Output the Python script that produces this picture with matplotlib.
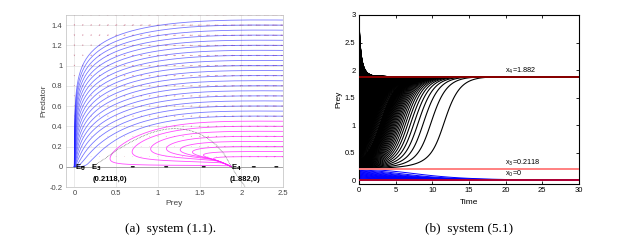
import numpy as np
import matplotlib
matplotlib.use("Agg")
import matplotlib.pyplot as plt
from matplotlib.collections import LineCollection

# ---------------- data ----------------
# equilibria printed on the chart
prey_E0 = 0.0
prey_E3 = 0.2118
prey_E4 = 1.882

# panel (a): starting states of the phase-plane orbits (prey, predator)
orbit_prey_start = 2.5
orbit_pred_start_blue = [0.50, 0.55, 0.60, 0.65, 0.70, 0.75, 0.80, 0.85, 0.90, 0.95,
                         1.00, 1.05, 1.10, 1.15, 1.20, 1.25, 1.30, 1.35, 1.40, 1.45]
orbit_pred_start_magenta = [0.10, 0.15, 0.20, 0.25, 0.30, 0.35, 0.40, 0.45]

# dotted curve through E3 and E4
dotted_prey = [0.2118, 0.30, 0.40, 0.50, 0.60, 0.70, 0.80, 0.90, 1.00, 1.10, 1.20,
               1.30, 1.40, 1.50, 1.60, 1.70, 1.80, 1.882, 1.95, 2.05]
dotted_pred = [0.0, 0.045, 0.10, 0.16, 0.21, 0.255, 0.295, 0.33, 0.355, 0.372, 0.378,
               0.372, 0.355, 0.325, 0.28, 0.215, 0.12, 0.0, -0.09, -0.20]

# flow arrows drawn on the prey axis
axis_arrow_prey = [0.10, 0.70, 1.10, 1.55, 2.15, 2.42]

# model constants of system (1.1)
a_r, a_pred, a_conv, a_death = 0.258, 1.0, 0.09, 0.20

# panel (b): starting prey values of the time series
b_start_below = prey_E3 - 0.01 * np.arange(1, 21)
b_start_near = prey_E3 + 0.0036 * np.arange(1, 41)
b_start_mid = np.arange(0.36, 1.875, 0.01)
b_start_above = np.arange(1.89, 3.001, 0.01)
b_growth = 0.45

a_xticks = [0, 0.5, 1, 1.5, 2, 2.5]
a_xticklabels = ["0", "0.5", "1", "1.5", "2", "2.5"]
a_yticks = [-0.2, 0, 0.2, 0.4, 0.6, 0.8, 1, 1.2, 1.4]
a_yticklabels = ["-0.2", "0", "0.2", "0.4", "0.6", "0.8", "1", "1.2", "1.4"]
b_xticks = [0, 5, 10, 15, 20, 25, 30]
b_yticks = [0, 0.5, 1, 1.5, 2, 2.5, 3]
b_yticklabels = ["0", "0.5", "1", "1.5", "2", "2.5", "3"]


# ---------------- models ----------------
def field_a(x, y):
    dx = x * (a_r * (x - prey_E3) * (prey_E4 - x) - a_pred * y)
    dy = y * (a_conv * x - a_death)
    return dx, dy


def rk4_2d(x, y, dt, n, keep):
    xs, ys = [x.copy()], [y.copy()]
    for i in range(n):
        k1 = field_a(x, y)
        k2 = field_a(x + 0.5 * dt * k1[0], y + 0.5 * dt * k1[1])
        k3 = field_a(x + 0.5 * dt * k2[0], y + 0.5 * dt * k2[1])
        k4 = field_a(x + dt * k3[0], y + dt * k3[1])
        x = x + dt / 6 * (k1[0] + 2 * k2[0] + 2 * k3[0] + k4[0])
        y = y + dt / 6 * (k1[1] + 2 * k2[1] + 2 * k3[1] + k4[1])
        if i % keep == 0:
            xs.append(x.copy()); ys.append(y.copy())
    return np.array(xs), np.array(ys)


def field_b(x):
    q = np.where(x < prey_E3, 0.38 + 0.62 * x / prey_E3,
                 np.where(x < prey_E4, 1.0 / (1.0 + x ** 2), 0.5))
    return b_growth * x * (x / prey_E3 - 1) * (1 - x / prey_E4) * q


def rk4_1d(x, dt, n):
    out = [x.copy()]
    for i in range(n):
        k1 = field_b(x)
        k2 = field_b(x + 0.5 * dt * k1)
        k3 = field_b(x + 0.5 * dt * k2)
        k4 = field_b(x + dt * k3)
        x = x + dt / 6 * (k1 + 2 * k2 + 2 * k3 + k4)
        out.append(x.copy())
    return np.array(out)


# ---------------- figure ----------------
plt.rcParams['font.family'] = ['Liberation Sans', 'DejaVu Sans']
fig = plt.figure(figsize=(6.33, 2.44), dpi=100)

# ---- panel (a)
ax = fig.add_axes([0.1043, 0.2336, 0.3428, 0.7049])
ax.set_xlim(-0.1, 2.5)
ax.set_ylim(-0.2, 1.5)
ax.grid(True, color='#e2e2e2', lw=0.5)
ax.set_axisbelow(True)
for s in ax.spines.values():
    s.set_color('#bdbdbd'); s.set_linewidth(0.5)
ax.tick_params(length=0, labelsize=5.5, colors='#444444', pad=2.5)
ax.set_xticks(a_xticks); ax.set_xticklabels(a_xticklabels)
ax.set_yticks(a_yticks); ax.set_yticklabels(a_yticklabels)
ax.set_xlabel("Prey", fontsize=6, color='#444444', labelpad=2)
ax.set_ylabel("Predator", fontsize=6, color='#444444', labelpad=1.5)

# direction field (arrow length grows with the square root of the speed)
gx, gy = np.meshgrid(np.arange(0, 2.51, 0.1), np.arange(0.1, 1.51, 0.1))
u, v = field_a(gx, gy)
sp = np.hypot(u, v)
ln = 0.07 * np.sqrt(sp / sp.max())
ax.quiver(gx, gy, u / sp * ln, v / sp * ln, angles='xy', scale_units='xy', scale=1,
          color='#c04a6a', alpha=0.7, width=0.0028, headwidth=2.5,
          headlength=2.5, headaxislength=2.2, pivot='middle', zorder=1)

# orbits
y0 = np.array(orbit_pred_start_blue + orbit_pred_start_magenta)
x0 = np.full_like(y0, orbit_prey_start)
X, Y = rk4_2d(x0, y0, 0.02, 20000, 4)
nb = len(orbit_pred_start_blue)
for i in range(len(y0)):
    if i < nb:
        ax.plot(X[:, i], Y[:, i], color='#2020ff', alpha=0.6, lw=0.6, zorder=2)
    else:
        ax.plot(X[:, i], Y[:, i], color='#ff20ff', alpha=0.8, lw=0.6, zorder=2)

ax.axhline(0, color='#8a8a8a', lw=0.5, zorder=2)
ax.plot(dotted_prey, dotted_pred, ls=(0, (1, 1.2)), color='#555555', lw=0.5, zorder=3)
for xp in axis_arrow_prey:
    dirn = np.sign(xp * (xp - prey_E3) * (prey_E4 - xp))
    ax.annotate("", xy=(xp + 0.05 * dirn, 0), xytext=(xp - 0.05 * dirn, 0),
                arrowprops=dict(arrowstyle='-', color='black', lw=0.9), zorder=4)

lab = dict(fontsize=5.5, fontweight='bold', color='black', zorder=5)
ax.text(prey_E0 + 0.005, -0.005, r"E$_\mathbf{0}$", ha='left', va='center', **lab)
ax.text(prey_E3 - 0.01, -0.005, r"E$_\mathbf{3}$", ha='left', va='center', **lab)
ax.text(prey_E3 + 0.01, -0.13, "(0.2118,0)", ha='left', va='center', **lab)
ax.text(prey_E4 - 0.01, -0.005, r"E$_\mathbf{4}$", ha='left', va='center', **lab)
ax.text(prey_E4 - 0.02, -0.13, "(1.882,0)", ha='left', va='center', **lab)

# ---- panel (b)
bx = fig.add_axes([0.567, 0.246, 0.3476, 0.6926])
bx.set_xlim(0, 30)
bx.set_ylim(-0.067, 3)
for s in bx.spines.values():
    s.set_color('black'); s.set_linewidth(0.8)
bx.tick_params(direction='in', length=2.5, width=0.6, top=True, right=True,
               labelsize=5.5, pad=2.5)
bx.set_xticks(b_xticks)
bx.set_yticks(b_yticks); bx.set_yticklabels(b_yticklabels)
bx.set_xlabel("Time", fontsize=6, labelpad=3)
bx.set_ylabel("Prey", fontsize=6, labelpad=2)

dt = 0.005
nsteps = int(30 / dt)
tt = np.arange(nsteps + 1) * dt
starts_black = np.concatenate([b_start_near, b_start_mid, b_start_above])
PB = rk4_1d(starts_black, dt, nsteps)
PL = rk4_1d(np.asarray(b_start_below), dt, nsteps)
segs = [np.column_stack([tt, PB[:, i]]) for i in range(PB.shape[1])]
bx.add_collection(LineCollection(segs, colors='black', linewidths=0.8, zorder=2))
segs = [np.column_stack([tt, PL[:, i]]) for i in range(PL.shape[1])]
bx.add_collection(LineCollection(segs, colors='#0000ff', linewidths=0.7, zorder=2))

bx.axhline(prey_E4, color='#8b0000', lw=1.4, zorder=3)
bx.axhline(prey_E3, color='#ff8080', lw=1.4, zorder=3)
bx.axhline(prey_E0, color='#b00030', lw=1.4, zorder=3)
bx.text(19.9, 1.985, r"x$_4$=1.882", fontsize=5.2, va='center', ha='left')
bx.text(19.9, 0.32, r"x$_3$=0.2118", fontsize=5.2, va='center', ha='left')
bx.text(19.9, 0.11, r"x$_0$=0", fontsize=5.2, va='center', ha='left')

# captions
fig.text(0.269, 0.061, "(a)  system (1.1).", family='Liberation Serif', fontsize=9.5,
         ha='center', va='center')
fig.text(0.741, 0.061, "(b)  system (5.1)", family='Liberation Serif', fontsize=9.5,
         ha='center', va='center')

fig.savefig("out.png", dpi=100)
